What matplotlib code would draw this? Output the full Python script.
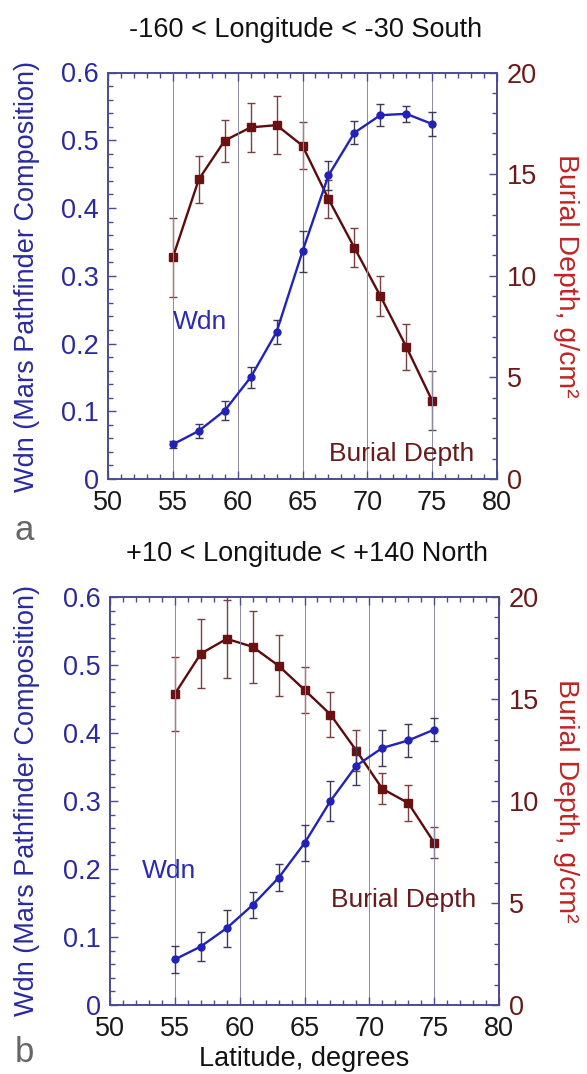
import matplotlib
matplotlib.use("Agg")
import matplotlib.pyplot as plt
from matplotlib.ticker import MultipleLocator, FuncFormatter

plt.rcParams['font.family'] = ['Liberation Sans', 'DejaVu Sans']

latitude = [55, 57, 59, 61, 63, 65, 67, 69, 71, 73, 75]

# Panel a: -160 < Longitude < -30 South
wdn_a = [0.051, 0.071, 0.101, 0.150, 0.217, 0.336, 0.448, 0.511, 0.537, 0.539, 0.524]
wdn_a_err = [0.005, 0.010, 0.014, 0.015, 0.018, 0.030, 0.022, 0.017, 0.016, 0.012, 0.017]
bur_a = [10.9, 14.74, 16.65, 17.3, 17.41, 16.4, 13.78, 11.38, 9.01, 6.51, 3.85]
bur_a_err = [1.95, 1.17, 1.03, 1.2, 1.44, 1.14, 0.93, 0.97, 1.0, 1.14, 1.44]

# Panel b: +10 < Longitude < +140 North
wdn_b = [0.067, 0.086, 0.113, 0.147, 0.187, 0.238, 0.300, 0.352, 0.378, 0.389, 0.405]
wdn_b_err = [0.020, 0.021, 0.027, 0.019, 0.020, 0.026, 0.030, 0.028, 0.027, 0.024, 0.017]
bur_b = [15.25, 17.22, 17.95, 17.56, 16.63, 15.45, 14.24, 12.47, 10.6, 9.9, 7.96]
bur_b_err = [1.83, 1.7, 1.9, 1.77, 1.49, 1.12, 1.08, 1.01, 0.76, 0.86, 0.77]

titles = ["-160 < Longitude < -30 South", "+10 < Longitude < +140 North"]
panel_letters = ["a", "b"]
grid_lats = [55, 60, 65, 70, 75]

SPINE = '#4a4a92'
BLUE = '#2222b8'
BLUE_LBL = '#2a2aa0'
RED_LINE = '#5c0c0c'
RED_MK = '#6a1212'
RED_TICK = '#6a1a1a'
RED_LBL = '#c02424'

W, H = 587, 1074
fig = plt.figure(figsize=(W / 100, H / 100), dpi=100)

panels = [
    dict(rect=(108 / W, 1 - 479 / H, 389 / W, 406.5 / H), wdn=wdn_a, we=wdn_a_err, bur=bur_a, be=bur_a_err,
         wdn_txt=(55.0, 0.231), bur_txt=(67.07, 0.0365), letter_y=531, ylc=276, title_y=30),
    dict(rect=(110 / W, 1 - 1005 / H, 389 / W, 408 / H), wdn=wdn_b, we=wdn_b_err, bur=bur_b, be=bur_b_err,
         wdn_txt=(52.45, 0.197), bur_txt=(67.08, 0.154), letter_y=1052, ylc=801, title_y=554),
]

FS = 19.5
for i, p in enumerate(panels):
    ax = fig.add_axes(p['rect'])
    ax2 = ax.twinx()
    ax.set_xlim(50, 80)
    ax.set_ylim(0, 0.6)
    ax2.set_ylim(0, 20)

    for g in grid_lats:
        ax.axvline(g, color='#8a8aa6', lw=0.7, zorder=0)

    ax.errorbar(latitude, p['wdn'], yerr=p['we'], color=BLUE, ecolor='#3a3a5a', elinewidth=1.0,
                capsize=3, capthick=1.0, lw=1.7, marker='o', markersize=5, zorder=3)
    ax2.errorbar(latitude, p['bur'], yerr=p['be'], color=RED_LINE, ecolor='#7a4040', elinewidth=1.0,
                 capsize=3, capthick=1.0, lw=1.7, marker='s', markersize=5.5, mfc=RED_MK, mec=RED_MK, zorder=3)

    ax.xaxis.set_major_locator(MultipleLocator(5))
    ax.xaxis.set_minor_locator(MultipleLocator(1))
    ax.yaxis.set_major_locator(MultipleLocator(0.1))
    ax.yaxis.set_minor_locator(MultipleLocator(0.02))
    ax2.yaxis.set_major_locator(MultipleLocator(5))
    ax2.yaxis.set_minor_locator(MultipleLocator(1))
    ax.yaxis.set_major_formatter(FuncFormatter(lambda v, _: '0' if abs(v) < 1e-9 else f'{v:.1f}'))

    for a in (ax, ax2):
        for s in a.spines.values():
            s.set_color(SPINE)
            s.set_linewidth(1.2)
    ax.tick_params(axis='x', which='both', direction='in', top=True, bottom=True, colors=SPINE,
                   labelcolor='#1a1a1a', labelsize=FS, pad=8)
    ax.tick_params(axis='x', which='major', length=6, width=1.0)
    ax.tick_params(axis='x', which='minor', length=3.5, width=1.0)
    ax.tick_params(axis='y', which='both', direction='in', right=False, colors=SPINE,
                   labelcolor=BLUE_LBL, labelsize=FS, pad=6.5)
    ax.tick_params(axis='y', which='major', length=6, width=1.0)
    ax.tick_params(axis='y', which='minor', length=3.5, width=1.0)
    ax2.tick_params(axis='y', which='both', direction='in', colors=SPINE,
                    labelcolor=RED_TICK, labelsize=FS, pad=7)
    ax2.tick_params(axis='y', which='major', length=6, width=1.0)
    ax2.tick_params(axis='y', which='minor', length=3.5, width=1.0)

    ax.set_zorder(ax2.get_zorder() + 1)
    ax.patch.set_visible(False)

    ax.text(p['wdn_txt'][0], p['wdn_txt'][1], 'Wdn', color='#2a2ab4', fontsize=19, ha='left', va='center')
    ax.text(p['bur_txt'][0], p['bur_txt'][1], 'Burial Depth', color='#6a1a1a', fontsize=19, ha='left', va='center')

    x0, y0, w0, h0 = p['rect']
    fig.text(x0 + w0 / 2 + 3 / W, 1 - p['title_y'] / H, titles[i], fontsize=FS, color='#111111',
             ha='center', va='center')

    fig.text(27 / W, 1 - p['ylc'] / H, 'Wdn (Mars Pathfinder Composition)', rotation=90, color=BLUE_LBL,
             fontsize=FS, ha='center', va='center')
    fig.text(566 / W, 1 - p['ylc'] / H, 'Burial Depth, g/cm²', rotation=270, color=RED_LBL,
             fontsize=20.5, ha='center', va='center')
    fig.text(15 / W, 1 - p['letter_y'] / H, panel_letters[i], color='#666666', fontsize=25,
             ha='left', va='center')

    if i == 1:
        ax.set_xlabel('Latitude, degrees', fontsize=FS, color='#111111', labelpad=3)

fig.savefig('out.png', dpi=100)
